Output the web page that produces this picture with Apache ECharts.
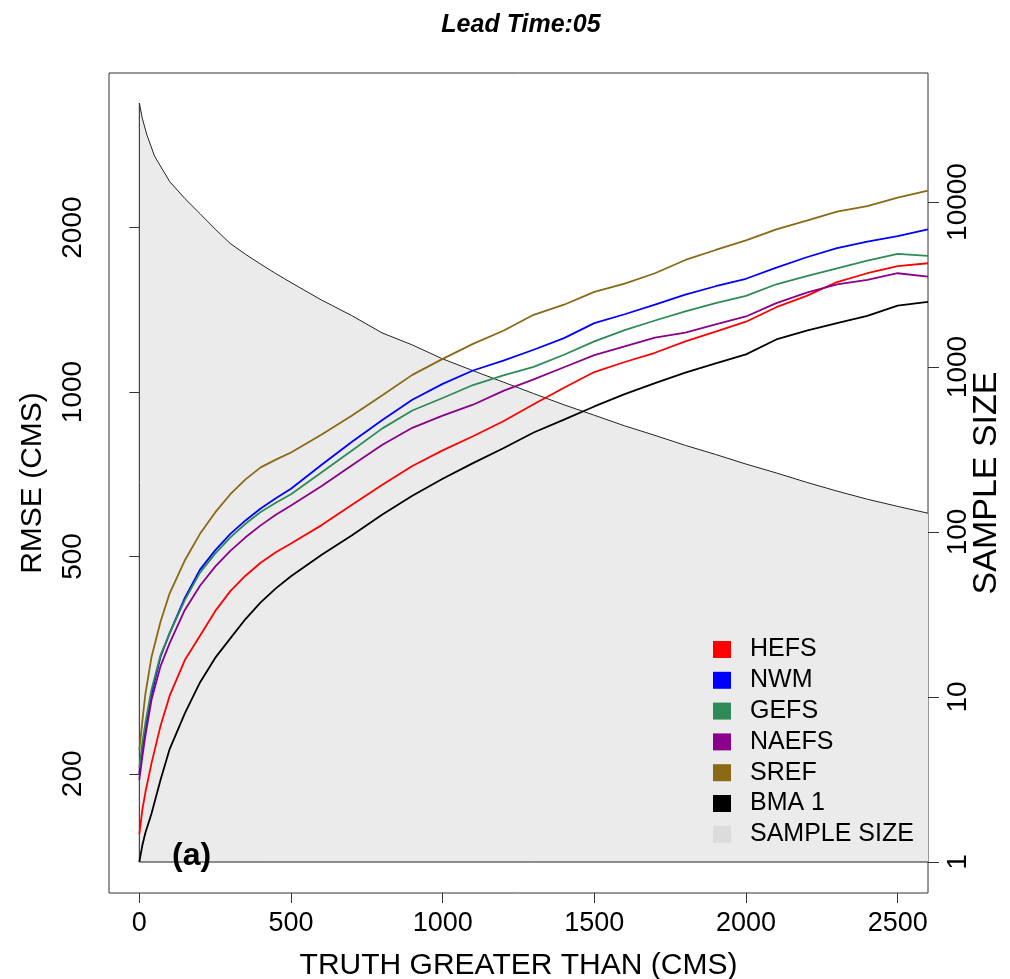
<!DOCTYPE html>
<html>
<head>
<meta charset="utf-8">
<script src="https://cdn.jsdelivr.net/npm/echarts@6/dist/echarts.min.js"></script>
<style>html,body{margin:0;padding:0;background:#fff;overflow:hidden;width:1010px;height:979px}#c{width:1010px;height:979px}</style>
</head>
<body>
<div id="c"></div>
<script>
// ---- data ----
const rmseX = [0,10,20,40,70,100,150,200,250,300,350,400,450,500,600,700,800,900,1000,1100,1200,1300,1400,1500,1600,1700,1800,1900,2000,2100,2200,2300,2400,2500,2600];
const hefs  = [155,172,185,209,245,278,323,358,397,432,461,487,509,528,570,621,676,732,782,830,884,950,1018,1088,1135,1180,1238,1290,1345,1430,1500,1590,1650,1700,1721];
const nwm   = [200,222,243,280,328,362,420,473,513,550,582,612,639,665,735,810,888,968,1035,1095,1142,1195,1255,1337,1388,1445,1508,1562,1612,1690,1765,1835,1885,1930,1986];
const gefs  = [205,228,248,285,330,362,416,467,506,542,574,603,627,650,712,781,857,925,975,1030,1073,1112,1170,1238,1298,1352,1405,1455,1500,1575,1630,1685,1740,1790,1775];
const naefs = [195,215,235,273,315,347,399,442,479,512,542,570,596,620,672,734,800,860,905,948,1005,1055,1110,1168,1212,1258,1285,1330,1375,1455,1520,1575,1605,1650,1626];
const sref  = [221,250,280,327,380,428,492,550,602,650,692,728,752,775,835,905,985,1075,1150,1225,1295,1385,1445,1525,1580,1650,1745,1820,1895,1985,2060,2140,2190,2270,2338];
const bma1  = [138,148,156,169,195,222,258,294,326,354,384,412,437,460,503,546,596,646,694,741,789,843,890,941,991,1038,1085,1128,1172,1248,1295,1337,1378,1440,1463];

const sampleX    = [0,10,25,50,100,150,200,250,300,350,400,450,500,600,700,800,900,1000,1100,1200,1300,1400,1500,1600,1700,1800,1900,2000,2100,2200,2300,2400,2500,2600];
const sampleSize = [39800,32000,25500,19000,13300,10500,8500,6850,5600,4820,4200,3680,3250,2550,2050,1610,1360,1120,950,810,690,590,510,440,385,335,295,258,228,200,177,158,143,130];
const sampleFloor = 1;

const xTicks = [0,500,1000,1500,2000,2500];
const rmseTicks = [200,500,1000,2000];
const sampleTicks = [1,10,100,1000,10000];

const seriesNames  = ['HEFS','NWM','GEFS','NAEFS','SREF','BMA 1'];
const seriesValues = [hefs, nwm, gefs, naefs, sref, bma1];
const seriesColors = ['#FF0000','#0000FF','#2E8B57','#8B008B','#8B6914','#000000'];

// ---- chart ----
const FONT = "'Liberation Sans', Arial, Helvetica, sans-serif";
const chart = echarts.init(document.getElementById('c'), null, {renderer:'canvas', width:1010, height:979});

const pairs = (xs, ys) => xs.map((x,i)=>[x, ys[i]]);
const plain = v => String(v);

const lineSeries = seriesNames.map((n,i)=>({
  name: n, type: 'line', xAxisIndex: 0, yAxisIndex: 0,
  data: pairs(rmseX, seriesValues[i]),
  showSymbol: false, symbol: 'none', smooth: false,
  lineStyle: {color: seriesColors[i], width: 1.8},
  itemStyle: {color: seriesColors[i]},
  z: 5, silent: true
}));

const lastX = sampleX[sampleX.length-1];

const option = {
  animation: false,
  title: {
    text: 'Lead Time:05', left: 516, top: 8, textAlign: 'center',
    textStyle: {fontFamily: FONT, fontSize: 25, fontWeight: 'bold', fontStyle: 'italic', color: '#000'}
  },
  grid: {left: 109, right: 82, top: 73, bottom: 86, show: true, borderColor: '#333', borderWidth: 1,
         backgroundColor: 'transparent', containLabel: false, outerBoundsMode: 'none'},
  legend: {
    orient: 'vertical', left: 708, top: 632, itemWidth: 18, itemHeight: 17, itemGap: 5.8,
    icon: 'rect', selectedMode: false,
    textStyle: {fontFamily: FONT, fontSize: 25, color: '#000', padding: [0,0,0,14]},
    data: seriesNames.map((n,i)=>({name:n, itemStyle:{color:seriesColors[i]}}))
      .concat([{name:'SAMPLE SIZE', itemStyle:{color:'#DCDCDC'}}])
  },
  xAxis: {
    type: 'value', min: -100, max: 2600,
    name: 'TRUTH GREATER THAN (CMS)', nameLocation: 'middle', nameGap: 58, nameMoveOverlap: false,
    nameTextStyle: {fontFamily: FONT, fontSize: 30, color: '#000'},
    axisLine: {show: false},
    axisTick: {show: true, length: 10, lineStyle: {color: '#333'}, customValues: xTicks},
    axisLabel: {fontFamily: FONT, fontSize: 27, color: '#000', margin: 17, customValues: xTicks, formatter: plain},
    splitLine: {show: false}
  },
  yAxis: [
    {
      type: 'log', logBase: 10, min: 121, max: 3838, position: 'left',
      name: 'RMSE (CMS)', nameLocation: 'middle', nameGap: 61, nameMoveOverlap: false,
      nameTextStyle: {fontFamily: FONT, fontSize: 30, color: '#000'},
      axisLine: {show: false},
      axisTick: {show: true, length: 10, lineStyle: {color: '#333'}, customValues: rmseTicks},
      axisLabel: {fontFamily: FONT, fontSize: 28, color: '#000', margin: 22, rotate: 90, customValues: rmseTicks, formatter: plain},
      splitLine: {show: false}, minorTick: {show: false}
    },
    {
      type: 'log', logBase: 10, min: 0.649, max: 60500, position: 'right',
      name: 'SAMPLE SIZE', nameLocation: 'middle', nameGap: 42, nameMoveOverlap: false,
      nameTextStyle: {fontFamily: FONT, fontSize: 34, color: '#000'},
      axisLine: {show: false},
      axisTick: {show: true, length: 11, lineStyle: {color: '#333'}, customValues: sampleTicks},
      axisLabel: {fontFamily: FONT, fontSize: 28, color: '#000', margin: 16, rotate: 90, customValues: sampleTicks, formatter: plain},
      splitLine: {show: false}, minorTick: {show: false}
    }
  ],
  graphic: [{
    type: 'text', left: 172, top: 840, z: 20,
    style: {text: '(a)', fontFamily: FONT, fontSize: 32, fontWeight: 'bold', fill: '#000'}
  }],
  series: [
    {
      name: 'SAMPLE SIZE', type: 'line', xAxisIndex: 0, yAxisIndex: 1,
      data: pairs(sampleX, sampleSize), showSymbol: false, symbol: 'none',
      lineStyle: {color: '#222', width: 1},
      itemStyle: {color: '#DCDCDC'},
      areaStyle: {color: '#EBEBEB', opacity: 1, origin: sampleFloor},
      z: 1, silent: true
    },
    {
      name: 'edge', type: 'line', xAxisIndex: 0, yAxisIndex: 1,
      data: [[sampleX[0], sampleSize[0]], [sampleX[0], sampleFloor], [lastX, sampleFloor]],
      showSymbol: false, symbol: 'none',
      lineStyle: {color: '#222', width: 1}, z: 2, silent: true
    }
  ].concat(lineSeries)
};
chart.setOption(option);
</script>
</body>
</html>
